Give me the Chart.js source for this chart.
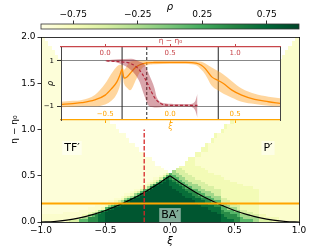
<!DOCTYPE html>
<html lang="en">
  <head>
    <meta charset="UTF-8" />
    <script src="https://cdn.jsdelivr.net/npm/chart.js@4.4.1/dist/chart.umd.min.js"></script>
    <title>rho map</title>
    <style>
      html, body { margin: 0; padding: 0; background: #fff; }
      .wrap { position: relative; width: 333px; height: 250px; }
      .wrap canvas { position: absolute; left: 0; top: 0; }
    </style>
  </head>
  <body>
    <div class="wrap">
      <canvas id="mainChart" width="333" height="250"></canvas>
      <canvas id="cbarChart" width="333" height="250"></canvas>
      <canvas id="insetChart" width="333" height="250"></canvas>
    </div>

    <script>
      Chart.defaults.font.family = "'DejaVu Sans', sans-serif";
      Chart.defaults.font.size = 9;
      Chart.defaults.color = "#000";

      // YlGn colour map
      const ylgn = ["#ffffe5", "#f7fcb9", "#d9f0a3", "#addd8e", "#78c679", "#41ab5d", "#238443", "#006837", "#004529"];

      // rho level of each digit used in the map rows
      const rhoLevels = [-1, -0.93, -0.86, -0.72, -0.5, -0.2, 0.15, 0.45, 0.7, 0.88];

      // map rows, 80 cells over xi = -1..1, "c:n" = n cells of level c, "." = no data
      // upper part: eta 2.0 -> 0.6, rows 0.05 high
      const rhoRowsTop = [
        "1:1 .:78 2:1",
        "1:2 .:76 2:2",
        "1:3 .:74 2:3",
        "1:4 .:72 2:4",
        "1:5 .:70 2:5",
        "1:6 .:68 2:6",
        "1:7 .:66 2:7",
        "1:8 .:64 2:8",
        "1:9 .:62 2:9",
        "1:10 .:60 2:10",
        "1:11 .:58 2:11",
        "1:12 .:56 2:12",
        "1:14 .:52 3:1 2:13",
        "1:15 .:50 3:1 2:14",
        "1:16 .:48 3:1 2:15",
        "1:17 .:46 3:1 2:16",
        "1:19 .:42 3:1 2:18",
        "1:20 .:40 3:1 2:19",
        "1:21 .:38 3:1 2:20",
        "1:23 .:34 3:1 2:22",
        "1:24 .:32 3:1 2:23",
        "1:26 .:28 3:1 2:25",
        "1:27 .:26 3:1 2:26",
        "1:29 .:22 3:1 2:28",
        "1:30 .:20 3:2 2:28",
        "1:32 .:16 3:2 2:30",
        "1:34 .:12 3:2 2:32",
        "1:35 .:10 3:3 2:32",
      ];
      // lower part: eta 0.6 -> 0, rows 0.025 high
      const rhoRowsLow = [
        "1:37 .:6 3:7 2:30",
        "1:38 .:4 4:2 3:7 2:29",
        "1:39 .:2 5:1 4:3 3:7 2:28",
        "1:38 2:1 4:1 6:1 5:2 4:3 3:8 2:26",
        "1:37 2:1 4:1 6:3 5:2 4:3 3:9 2:24",
        "1:35 2:2 4:1 6:1 8:1 7:1 6:2 5:2 4:3 3:9 2:23",
        "1:34 2:1 3:1 4:1 6:1 8:1 9:1 8:1 7:1 6:2 5:2 4:4 3:9 2:21",
        "1:33 2:1 3:1 4:1 6:1 8:1 9:2 8:2 7:1 6:2 5:2 4:4 3:10 2:19",
        "1:32 2:1 3:1 5:1 7:1 8:1 9:3 8:3 7:1 6:2 5:3 4:3 3:11 2:17",
        "1:31 2:1 3:1 5:1 7:1 9:6 8:3 7:1 6:2 5:3 4:4 3:12 2:14",
        "1:29 2:2 4:1 6:1 7:1 9:8 8:3 7:2 6:2 5:2 4:5 3:12 2:12",
        "1:28 2:1 3:1 4:1 6:1 8:1 9:10 8:3 7:2 6:2 5:3 4:3 3:12 2:12",
        "1:26 2:2 3:1 5:1 6:1 8:1 9:12 8:3 7:2 6:2 5:3 4:2 3:12 2:12",
        "1:25 2:1 3:1 4:1 5:1 7:1 8:1 9:14 8:3 7:2 6:3 5:3 3:12 2:12",
        "1:23 2:2 3:1 5:1 6:1 8:1 9:18 8:3 7:2 6:2 5:2 4:2 3:10 2:12",
        "1:21 2:2 3:1 4:1 5:1 7:1 8:1 9:20 8:3 7:2 6:3 4:3 3:9 2:12",
        "1:19 2:2 3:1 4:1 5:1 6:1 8:1 9:23 8:3 7:3 6:1 5:2 4:3 3:7 2:12",
        "1:17 2:3 3:1 5:1 6:1 7:1 8:1 9:25 8:4 7:2 6:1 5:2 4:3 3:6 2:12",
        "1:15 2:4 3:1 6:1 7:1 8:1 9:29 8:4 6:2 5:3 4:1 3:6 2:12",
        "1:12 2:5 3:1 5:1 6:1 8:1 9:32 8:3 7:1 6:3 5:2 4:2 3:4 2:12",
        "1:7 2:8 3:1 4:1 5:1 7:1 8:1 9:35 8:1 7:3 6:3 4:4 3:2 2:12",
        "2:13 3:2 5:1 6:1 7:1 8:2 9:36 8:1 7:4 6:1 5:3 4:3 3:2 2:10",
        "2:12 4:1 5:2 7:3 8:2 9:36 8:2 7:4 6:1 5:5 3:6 2:6",
        "2:8 3:1 4:3 6:3 7:3 8:2 9:36 8:4 7:2 6:4 5:2 4:4 3:2 2:6",
      ];
      const cellXi = 0.025;
      const topEtaStep = 0.05;
      const lowEtaStep = 0.025;
      const splitEta = 0.6;

      const mainXiTicks = [-1, -0.5, 0, 0.5, 1];
      const mainEtaTicks = [0, 0.5, 1, 1.5, 2];
      const cbarTicks = [-0.75, -0.25, 0.25, 0.75];

      // black phase boundary
      const curveXiLeft = [-1, -0.9, -0.8, -0.7, -0.6, -0.5, -0.4, -0.3, -0.2, -0.1, 0];
      const curveEtaLeft = [0, 0.005, 0.02, 0.045, 0.08, 0.125, 0.18, 0.245, 0.32, 0.405, 0.5];
      const curveXiRight = [0, 0.1, 0.2, 0.3, 0.4, 0.5, 0.6, 0.7, 0.8, 0.9, 1];
      const curveEtaRight = [0.5, 0.405, 0.32, 0.245, 0.18, 0.125, 0.08, 0.045, 0.02, 0.005, 0];

      // cuts
      const cutEta = 0.2;
      const cutXi = -0.2;
      const cutEtaTop = 1.0;

      const regionLabels = ["TF\u2032", "P\u2032", "BA\u2032"];
      const labelXi = [-0.76, 0.76, 0];
      const labelEta = [0.8, 0.8, 0.075];

      // inset: rho along the orange cut (vs xi)
      const orangeXi = [-0.84, -0.75, -0.68, -0.58, -0.5, -0.45, -0.41, -0.385, -0.37, -0.355, -0.33, -0.31, -0.26, -0.21, -0.12, 0, 0.12, 0.2, 0.24, 0.27, 0.32, 0.367, 0.41, 0.475, 0.55, 0.65, 0.756, 0.845];
      const orangeRho = [-0.92, -0.88, -0.84, -0.72, -0.51, -0.22, 0.07, 0.4, 0.62, 0.24, 0.3, 0.43, 0.73, 0.87, 0.92, 0.93, 0.93, 0.89, 0.8, 0.65, 0.29, 0.14, 0.0, -0.29, -0.51, -0.7, -0.8, -0.87];
      const orangeLo = [-1.04, -1.02, -1.0, -1.0, -0.92, -0.75, -0.45, -0.05, 0.4, 0.0, -0.2, -0.3, 0.2, 0.7, 0.84, 0.86, 0.86, 0.8, 0.6, 0.4, -0.1, -0.3, -0.45, -0.62, -0.8, -0.9, -0.97, -1.0];
      const orangeHi = [-0.8, -0.76, -0.72, -0.5, 0.0, 0.45, 0.75, 0.82, 0.82, 0.6, 0.8, 0.95, 1.0, 1.0, 1.0, 1.0, 1.0, 0.98, 0.95, 0.88, 0.7, 0.55, 0.4, 0.1, -0.22, -0.45, -0.58, -0.65];

      // inset: rho along the red cut (vs eta - eta0)
      const redEta = [0.01, 0.12, 0.2, 0.265, 0.32, 0.355, 0.395, 0.46, 0.55, 0.65, 0.71];
      const redRho = [0.99, 0.95, 0.87, 0.58, 0.07, -0.36, -0.73, -0.94, -0.96, -0.96, -0.96];
      const redBandEta = [0.0, 0.1, 0.2, 0.265, 0.3, 0.34, 0.38, 0.395, 0.46, 0.55, 0.65, 0.69, 0.71];
      const redLo = [0.97, 0.9, 0.58, 0.07, -0.51, -1.0, -1.05, -1.05, -1.02, -1.01, -1.02, -1.15, -1.5];
      const redHi = [1.01, 1.06, 1.08, 0.95, 0.85, 0.36, -0.22, -0.58, -0.87, -0.9, -0.9, -0.8, -0.45];

      // where the cuts cross the black boundary
      const orangeCross = [-0.37, 0.37];
      const redCross = 0.32;

      const insetXiTicks = [-0.5, 0, 0.5];
      const insetEtaTicks = [0, 0.5, 1];
      const insetRhoTicks = [-1, 1];

      const ORANGE = "#ffa500";
      const RED = "#c8464b";

      // helpers
      const fmt = (v, d) => (v < 0 ? "\u2212" : "") + Math.abs(v).toFixed(d);
      const fixTicks = (list) => (s) => { s.ticks = list.map((v) => ({ value: v })); };
      const pts = (xs, ys) => xs.map((x, i) => ({ x: x, y: ys[i] }));
      const line = (data, color, width, extra) =>
        Object.assign({ data: data, showLine: true, borderColor: color, backgroundColor: color, borderWidth: width, pointRadius: 0, fill: false }, extra || {});

      const ylgnRgb = ylgn.map((h) => { const n = parseInt(h.slice(1), 16); return [(n >> 16) & 255, (n >> 8) & 255, n & 255]; });
      function rhoColor(rho) {
        const t = Math.min(1, Math.max(0, (rho + 1) / 2)) * (ylgnRgb.length - 1);
        const i = Math.min(Math.floor(t), ylgnRgb.length - 2);
        const f = t - i;
        const a = ylgnRgb[i], b = ylgnRgb[i + 1];
        return "rgb(" + a.map((c, k) => Math.round(c + (b[k] - c) * f)).join(",") + ")";
      }

      // unpack the map rows into cells
      const heatPoints = [];
      function addRows(rows, etaTop, step, blk) {
        rows.forEach((row, r) => {
          const cells = row.split(" ").map((tok) => { const p = tok.split(":"); return p[0].repeat(p[1] ? +p[1] : 1); }).join("");
          if (cells.length !== 80) console.warn("row", blk, r, "has", cells.length);
          for (let i = 0; i < cells.length; i++) {
            if (cells[i] === ".") continue;
            heatPoints.push({ x: -1 + (i + 0.5) * cellXi, y: etaTop - (r + 0.5) * step, lvl: +cells[i], blk: blk });
          }
        });
      }
      addRows(rhoRowsTop, 2, topEtaStep, 0);
      addRows(rhoRowsLow, splitEta, lowEtaStep, 1);

      // one small image per level and row height, sized from the scales
      let cellImgs = [[], []];
      const cellPlugin = {
        id: "cells",
        afterLayout(chart) {
          const xs = chart.scales.x, ys = chart.scales.y;
          const w = Math.ceil(Math.abs(xs.getPixelForValue(cellXi) - xs.getPixelForValue(0))) + 1;
          cellImgs = [topEtaStep, lowEtaStep].map((step) => {
            const h = Math.ceil(Math.abs(ys.getPixelForValue(step) - ys.getPixelForValue(0))) + 1;
            return rhoLevels.map((rho) => {
              const c = document.createElement("canvas");
              c.width = w; c.height = h;
              const g = c.getContext("2d");
              g.fillStyle = rhoColor(rho);
              g.fillRect(0, 0, w, h);
              return c;
            });
          });
        },
      };

      const labelPlugin = {
        id: "regionLabels",
        afterDatasetsDraw(chart) {
          const { ctx, scales: { x, y } } = chart;
          ctx.save();
          ctx.font = "11px 'DejaVu Sans'";
          ctx.textAlign = "center";
          ctx.textBaseline = "middle";
          regionLabels.forEach((txt, i) => {
            const px = x.getPixelForValue(labelXi[i]);
            const py = y.getPixelForValue(labelEta[i]);
            const w = ctx.measureText(txt).width + 4;
            ctx.fillStyle = "rgba(255,255,255,0.5)";
            ctx.fillRect(px - w / 2, py - 7, w, 14);
            ctx.fillStyle = "#000";
            ctx.fillText(txt, px, py + 0.5);
          });
          ctx.restore();
        },
      };

      const baseOpts = (padding) => ({
        responsive: false,
        animation: false,
        events: [],
        devicePixelRatio: 1,
        layout: { autoPadding: false, padding: padding },
        plugins: { legend: { display: false }, tooltip: { enabled: false } },
      });

      // main map
      new Chart(document.getElementById("mainChart"), {
        type: "scatter",
        data: {
          datasets: [
            line(pts([cutXi, cutXi], [0, cutEtaTop]), "#d62728", 1.3, { borderDash: [4.5, 2], order: 0 }),
            line(pts([-1, 1], [cutEta, cutEta]), ORANGE, 1.8, { order: 1 }),
            line(pts(curveXiLeft, curveEtaLeft), "#000", 1.1, { cubicInterpolationMode: "monotone", order: 2 }),
            line(pts(curveXiRight, curveEtaRight), "#000", 1.1, { cubicInterpolationMode: "monotone", order: 2 }),
            {
              data: heatPoints,
              pointStyle: (c) => (c.raw && cellImgs[c.raw.blk] ? cellImgs[c.raw.blk][c.raw.lvl] : null) || "rect",
              pointRadius: 2,
              clip: 0,
              order: 10,
            },
          ],
        },
        options: Object.assign(baseOpts({ left: 0, top: 37, right: 34, bottom: 0 }), {
          scales: {
            x: {
              type: "linear", position: "bottom", min: -1, max: 1,
              afterBuildTicks: fixTicks(mainXiTicks),
              afterFit: (s) => { s.height = 28; },
              ticks: { callback: (v) => fmt(v, 1), padding: 0, maxRotation: 0, autoSkip: false },
              grid: { drawOnChartArea: false, tickLength: 3.5, tickWidth: 0.8, tickColor: "#000" },
              border: { color: "#000", width: 0.8, z: 1 },
              title: { display: true, text: "\u03be", font: { size: 10, style: "italic" }, padding: { top: 0, bottom: 3 } },
            },
            y: {
              type: "linear", position: "left", min: 0, max: 2,
              afterBuildTicks: fixTicks(mainEtaTicks),
              afterFit: (s) => { s.width = 41; },
              ticks: { callback: (v) => fmt(v, 1), padding: 2 },
              grid: { drawOnChartArea: false, tickLength: 3.5, tickWidth: 0.8, tickColor: "#000" },
              border: { color: "#000", width: 0.8, z: 1 },
              title: { display: true, text: "\u03b7 \u2212 \u03b7\u2080", font: { size: 9 }, padding: { top: 9, bottom: 0 } },
            },
            xTop: {
              axis: "x", type: "linear", position: "top", min: -1, max: 1,
              afterFit: (s) => { s.height = 0; },
              ticks: { display: false },
              grid: { drawOnChartArea: false, drawTicks: false },
              border: { color: "#000", width: 0.8, z: 1 },
            },
            yRight: {
              axis: "y", type: "linear", position: "right", min: 0, max: 2,
              afterFit: (s) => { s.width = 0; },
              ticks: { display: false },
              grid: { drawOnChartArea: false, drawTicks: false },
              border: { color: "#000", width: 0.8, z: 1 },
            },
          },
        }),
        plugins: [cellPlugin, labelPlugin],
      });

      // colour bar
      const cbarPlugin = {
        id: "cbar",
        afterDraw(chart) {
          const { ctx, chartArea: a } = chart;
          const g = ctx.createLinearGradient(a.left, 0, a.right, 0);
          ylgn.forEach((c, i) => g.addColorStop(i / (ylgn.length - 1), c));
          ctx.save();
          ctx.fillStyle = g;
          ctx.fillRect(a.left, a.top, a.right - a.left, a.bottom - a.top);
          ctx.strokeStyle = "#333";
          ctx.lineWidth = 0.8;
          ctx.strokeRect(a.left, a.top, a.right - a.left, a.bottom - a.top);
          ctx.restore();
        },
      };

      new Chart(document.getElementById("cbarChart"), {
        type: "scatter",
        data: { datasets: [] },
        options: Object.assign(baseOpts({ left: 41, right: 34, top: 0, bottom: 221 }), {
          scales: {
            x: {
              type: "linear", position: "top", min: -1, max: 1,
              afterBuildTicks: fixTicks(cbarTicks),
              afterFit: (s) => { s.height = 24; },
              ticks: { callback: (v) => fmt(v, 2), padding: 0, maxRotation: 0, autoSkip: false },
              grid: { drawOnChartArea: false, tickLength: 3.5, tickWidth: 0.8, tickColor: "#000" },
              border: { display: false },
              title: { display: true, text: "\u03c1", font: { size: 10, style: "italic" }, padding: { top: 1, bottom: 0 } },
            },
            y: { display: false, min: 0, max: 1 },
          },
        }),
        plugins: [cbarPlugin],
      });

      // inset
      const insetBg = {
        id: "insetBg",
        beforeDraw(chart) {
          const { ctx, chartArea: a } = chart;
          ctx.save();
          ctx.fillStyle = "#fff";
          ctx.fillRect(a.left, a.top, a.right - a.left, a.bottom - a.top);
          ctx.restore();
        },
      };

      const vline = (x, axis, dash) =>
        line(pts([x, x], [-1.6, 1.6]), "#222", 1, { xAxisID: axis, borderDash: dash, order: 6 });

      // mirrored ticks: labels sit inside the frame, padding measured inward from the spine
      new Chart(document.getElementById("insetChart"), {
        type: "scatter",
        data: {
          datasets: [
            line(pts(orangeXi, orangeLo), "rgba(0,0,0,0)", 0, { cubicInterpolationMode: "monotone", order: 5 }),
            line(pts(orangeXi, orangeHi), "rgba(0,0,0,0)", 0, { cubicInterpolationMode: "monotone", fill: "-1", backgroundColor: "rgba(255,165,40,0.45)", order: 4 }),
            line(pts(orangeXi, orangeRho), "#ff8c00", 1.3, { cubicInterpolationMode: "monotone", order: 3 }),
            line(pts(redBandEta, redLo), "rgba(0,0,0,0)", 0, { xAxisID: "xTop", cubicInterpolationMode: "monotone", order: 2 }),
            line(pts(redBandEta, redHi), "rgba(0,0,0,0)", 0, { xAxisID: "xTop", cubicInterpolationMode: "monotone", fill: "-1", backgroundColor: "rgba(160,30,45,0.4)", order: 1 }),
            line(pts(redEta, redRho), "#b4283c", 1.2, { xAxisID: "xTop", cubicInterpolationMode: "monotone", borderDash: [3, 2], order: 0 }),
            vline(orangeCross[0], "x", []),
            vline(orangeCross[1], "x", []),
            vline(redCross, "xTop", [3, 2]),
          ],
        },
        options: Object.assign(baseOpts({ left: 0, top: 0, right: 0, bottom: 0 }), {
          scales: {
            x: {
              type: "linear", position: "bottom", min: -0.84, max: 0.845,
              afterBuildTicks: fixTicks(insetXiTicks),
              afterFit: (s) => { s.height = 130; },
              ticks: { callback: (v) => fmt(v, 1), color: ORANGE, font: { size: 7 }, mirror: true, padding: 1.3, maxRotation: 0, autoSkip: false, z: 1 },
              grid: { drawOnChartArea: false, tickLength: 3, tickWidth: 1, tickColor: ORANGE },
              border: { color: ORANGE, width: 1.3, z: 1 },
              title: { display: true, text: "\u03be", color: ORANGE, font: { size: 8, style: "italic" }, padding: { top: 0, bottom: 118.7 } },
            },
            xTop: {
              axis: "x", type: "linear", position: "top", min: -0.34, max: 1.345,
              afterBuildTicks: fixTicks(insetEtaTicks),
              afterFit: (s) => { s.height = 47; },
              ticks: { callback: (v) => fmt(v, 1), color: RED, font: { size: 7 }, mirror: true, padding: 1.8, maxRotation: 0, autoSkip: false, z: 1 },
              grid: { drawOnChartArea: false, tickLength: 3, tickWidth: 1, tickColor: RED },
              border: { color: RED, width: 1.3, z: 1 },
              title: { display: true, text: "\u03b7 \u2212 \u03b7\u2080", color: RED, font: { size: 7.5 }, padding: { top: 36.5, bottom: 0 } },
            },
            y: {
              type: "linear", position: "left", min: -1.6, max: 1.6,
              afterBuildTicks: fixTicks(insetRhoTicks),
              afterFit: (s) => { s.width = 61; },
              ticks: { callback: (v) => fmt(v, 0), font: { size: 7 }, padding: 3 },
              grid: { color: "#888", lineWidth: 1, tickLength: 4, tickColor: "#333" },
              border: { color: "#444", width: 1, z: 1 },
              title: { display: true, text: "\u03c1", font: { size: 8, style: "italic" }, padding: { top: 46, bottom: 0 } },
            },
            yR: {
              axis: "y", type: "linear", position: "right", min: -1.6, max: 1.6,
              afterFit: (s) => { s.width = 53; },
              ticks: { display: false },
              grid: { drawOnChartArea: false, drawTicks: false },
              border: { color: "#444", width: 1, z: 1 },
            },
          },
        }),
        plugins: [insetBg],
      });
    </script>
  </body>
</html>
